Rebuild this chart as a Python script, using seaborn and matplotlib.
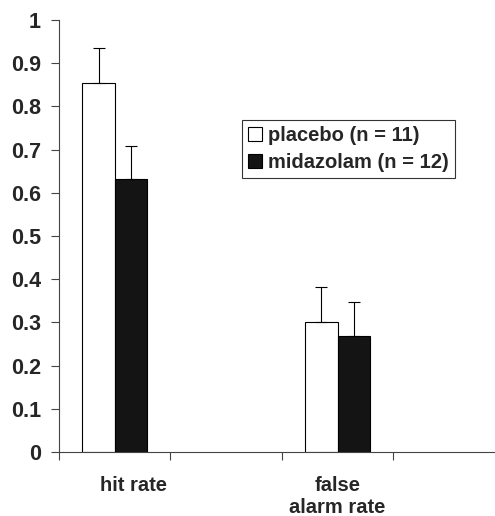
import pandas as pd
import matplotlib
matplotlib.use("Agg")
import matplotlib.pyplot as plt
import seaborn as sns

sns.set_style("white")
plt.rcParams["font.family"] = ["Liberation Sans", "DejaVu Sans"]
plt.rcParams["font.weight"] = "bold"

# valores
medidas = ["hit rate", "false\nalarm rate"]
grupos = ["placebo (n = 11)", "midazolam (n = 12)"]
placebo = [0.855, 0.302]
midazolam = [0.631, 0.269]
erro_placebo = [0.080, 0.079]
erro_midazolam = [0.078, 0.078]

# categorias vazias entre as medidas, como no grafico original
ordem = ["hit rate", "vazio1", "false\nalarm rate", "vazio2"]

df = pd.DataFrame({
    "medida": medidas * 2,
    "grupo": [grupos[0]] * 2 + [grupos[1]] * 2,
    "valor": placebo + midazolam,
    "erro": erro_placebo + erro_midazolam,
})

fig = plt.figure(figsize=(4.95, 5.16), dpi=100)
ax = fig.add_axes([59 / 495, 64 / 516, 438 / 495, 432 / 516])

sns.barplot(
    data=df, x="medida", y="valor", hue="grupo", order=ordem, hue_order=grupos,
    palette=["white", "#141414"], edgecolor="black", linewidth=0.8,
    width=0.58, gap=0, errorbar=None, ax=ax,
)

# barras de erro so para cima
for barras, (_, sub) in zip(ax.containers, df.groupby("grupo", sort=False)):
    for p, (_, linha) in zip([b for b in barras if b.get_height() > 0], sub.iterrows()):
        x = p.get_x() + p.get_width() / 2
        ax.errorbar(x, p.get_height(), yerr=[[0], [linha["erro"]]], fmt="none",
                    ecolor="black", elinewidth=0.8, capsize=4, capthick=0.8)

ax.set_ylim(0, 1)
ax.set_xlim(-0.5, 3.43)
ax.set_yticks([i / 10 for i in range(11)])
ax.set_yticklabels(["0"] + [f"{i / 10:.1f}" for i in range(1, 10)] + ["1"],
                   fontsize=15.5, fontweight="bold")
ax.set_xticks([-0.5, 0.5, 1.5, 2.5])
ax.set_xticklabels([])
ax.set_xticks([0.17, 2], minor=True)
ax.set_xticklabels(medidas, minor=True, fontsize=14.5, fontweight="bold")
ax.tick_params(axis="x", which="minor", length=0, pad=17)
ax.tick_params(axis="both", which="major", direction="out", length=6, width=0.8,
               color="#444444", left=True, bottom=True)
ax.tick_params(axis="y", pad=7)
ax.set_xlabel("")
ax.set_ylabel("")
sns.despine(ax=ax)
for s in ["left", "bottom"]:
    ax.spines[s].set_color("#444444")
    ax.spines[s].set_linewidth(0.8)

leg = ax.legend(loc="upper left", bbox_to_anchor=((242 - 59) / 438, (452 - 120) / 432),
                frameon=True, fancybox=False, edgecolor="black",
                prop={"size": 14.5, "weight": "bold"}, handlelength=0.7,
                handleheight=0.7, handletextpad=0.3, borderpad=0.3,
                labelspacing=0.4, borderaxespad=0)
leg.get_frame().set_linewidth(0.8)

fig.savefig("out.png", dpi=100)
